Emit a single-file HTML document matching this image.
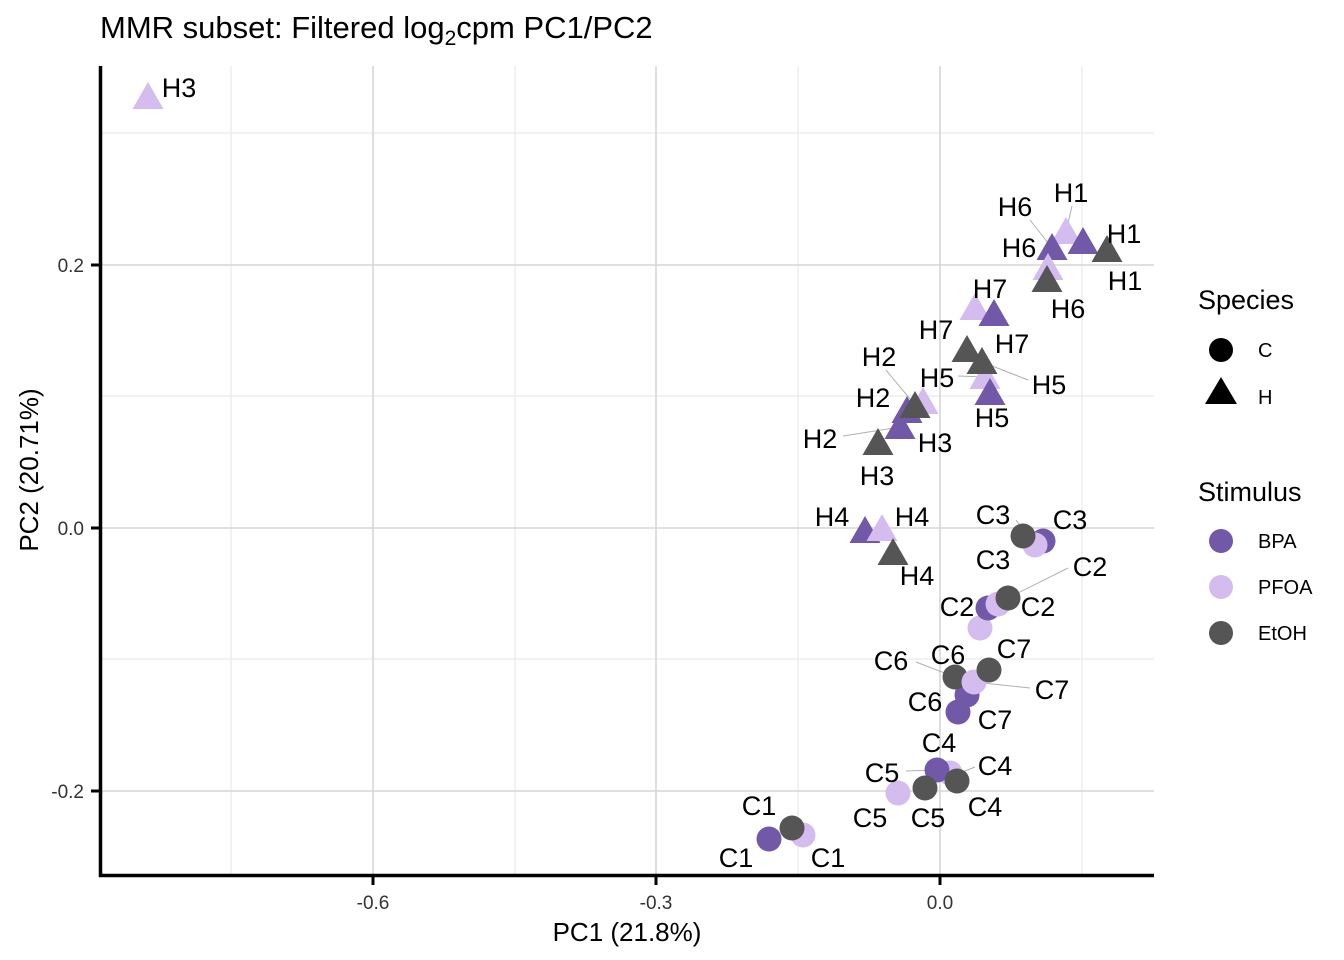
<!DOCTYPE html>
<html><head><meta charset="utf-8"><style>
html,body{margin:0;padding:0;background:#fff;}
svg{display:block;font-family:"Liberation Sans",Arial,sans-serif;}
</style></head><body>
<svg width="1344" height="960" viewBox="0 0 1344 960" xmlns="http://www.w3.org/2000/svg">
<defs>
<path id="tri" d="M0,-16 L15.5,11 L-15.5,11 Z"/>
</defs>
<rect width="1344" height="960" fill="#fff"/>
<g stroke="#ebebeb" stroke-width="1.3">
<line x1="231" y1="66" x2="231" y2="876"/><line x1="515" y1="66" x2="515" y2="876"/>
<line x1="798" y1="66" x2="798" y2="876"/><line x1="1082" y1="66" x2="1082" y2="876"/>
<line x1="100" y1="133" x2="1154" y2="133"/><line x1="100" y1="396" x2="1154" y2="396"/>
<line x1="100" y1="659" x2="1154" y2="659"/>
</g>
<g stroke="#d6d6d6" stroke-width="1.6">
<line x1="373" y1="66" x2="373" y2="876"/><line x1="656" y1="66" x2="656" y2="876"/>
<line x1="940" y1="66" x2="940" y2="876"/>
<line x1="100" y1="265" x2="1154" y2="265"/><line x1="100" y1="528" x2="1154" y2="528"/>
<line x1="100" y1="791" x2="1154" y2="791"/>
</g>
<g stroke="#b0b0b0" stroke-width="1">
<line x1="1066" y1="232" x2="1072" y2="206"/>
<line x1="1052" y1="248" x2="1030" y2="220"/>
<line x1="915" y1="405" x2="886" y2="370"/>
<line x1="900" y1="427" x2="843" y2="436"/>
<line x1="985" y1="377" x2="958" y2="376"/>
<line x1="982" y1="362" x2="1028" y2="380"/>
<line x1="1035" y1="545" x2="1016" y2="520"/>
<line x1="1008" y1="598" x2="1068" y2="568"/>
<line x1="955" y1="677" x2="916" y2="662"/>
<line x1="974" y1="682" x2="1030" y2="688"/>
<line x1="937" y1="770" x2="906" y2="771"/>
<line x1="955" y1="775" x2="975" y2="767"/>
</g>
<g>
<use href="#tri" x="148" y="98" fill="#d4bcef"/>
<use href="#tri" x="1066" y="233" fill="#d4bcef"/>
<use href="#tri" x="1083" y="243" fill="#7159a8"/>
<use href="#tri" x="1052" y="249" fill="#7159a8"/>
<use href="#tri" x="1107" y="251" fill="#555555"/>
<use href="#tri" x="1048" y="269" fill="#d4bcef"/>
<use href="#tri" x="1047" y="281" fill="#555555"/>
<use href="#tri" x="975" y="309" fill="#d4bcef"/>
<use href="#tri" x="994" y="315" fill="#7159a8"/>
<use href="#tri" x="967" y="351" fill="#555555"/>
<use href="#tri" x="985" y="378" fill="#d4bcef"/>
<use href="#tri" x="982" y="363" fill="#555555"/>
<use href="#tri" x="990" y="394" fill="#7159a8"/>
<use href="#tri" x="923" y="403" fill="#d4bcef"/>
<use href="#tri" x="907" y="412" fill="#7159a8"/>
<use href="#tri" x="900" y="428" fill="#7159a8"/>
<use href="#tri" x="915" y="407" fill="#555555"/>
<use href="#tri" x="878" y="444" fill="#555555"/>
<use href="#tri" x="865" y="532" fill="#7159a8"/>
<use href="#tri" x="882" y="530" fill="#d4bcef"/>
<use href="#tri" x="893" y="554" fill="#555555"/>

<circle cx="1043" cy="541" r="12.5" fill="#7159a8"/>
<circle cx="1035" cy="545" r="12.5" fill="#d4bcef"/>
<circle cx="1023" cy="536" r="12.5" fill="#555555"/>
<circle cx="980" cy="628" r="12.5" fill="#d4bcef"/>
<circle cx="988" cy="608" r="12.5" fill="#7159a8"/>
<circle cx="998" cy="604" r="12.5" fill="#d4bcef"/>
<circle cx="1008" cy="598" r="12.5" fill="#555555"/>
<circle cx="958" cy="712" r="12.5" fill="#7159a8"/>
<circle cx="967" cy="695" r="12.5" fill="#7159a8"/>
<circle cx="955" cy="677" r="12.5" fill="#555555"/>
<circle cx="974" cy="682" r="12.5" fill="#d4bcef"/>
<circle cx="989" cy="670" r="12.5" fill="#555555"/>
<circle cx="950" cy="773" r="12.5" fill="#d4bcef"/>
<circle cx="937" cy="770" r="12.5" fill="#7159a8"/>
<circle cx="957" cy="781" r="12.5" fill="#555555"/>
<circle cx="898" cy="793" r="12.5" fill="#d4bcef"/>
<circle cx="925" cy="788" r="12.5" fill="#555555"/>
<circle cx="803" cy="835" r="12.5" fill="#d4bcef"/>
<circle cx="769" cy="839" r="12.5" fill="#7159a8"/>
<circle cx="792" cy="828" r="12.5" fill="#555555"/>
</g>
<g font-size="27" fill="#000" text-anchor="middle">
<text x="179" y="97">H3</text>
<text x="1071" y="202">H1</text>
<text x="1015" y="216">H6</text>
<text x="1124" y="243">H1</text>
<text x="1019" y="257">H6</text>
<text x="1125" y="290">H1</text>
<text x="1068" y="318">H6</text>
<text x="990" y="298">H7</text>
<text x="936" y="339">H7</text>
<text x="1012" y="353">H7</text>
<text x="879" y="366">H2</text>
<text x="937" y="387">H5</text>
<text x="1049" y="394">H5</text>
<text x="873" y="407">H2</text>
<text x="992" y="427">H5</text>
<text x="820" y="448">H2</text>
<text x="935" y="452">H3</text>
<text x="877" y="485">H3</text>
<text x="832" y="526">H4</text>
<text x="912" y="526">H4</text>
<text x="917" y="585">H4</text>
<text x="993" y="524">C3</text>
<text x="1070" y="529">C3</text>
<text x="993" y="569">C3</text>
<text x="1090" y="576">C2</text>
<text x="957" y="616">C2</text>
<text x="1038" y="616">C2</text>
<text x="891" y="670">C6</text>
<text x="948" y="664">C6</text>
<text x="1014" y="658">C7</text>
<text x="1052" y="699">C7</text>
<text x="925" y="711">C6</text>
<text x="995" y="729">C7</text>
<text x="939" y="752">C4</text>
<text x="995" y="775">C4</text>
<text x="882" y="782">C5</text>
<text x="985" y="816">C4</text>
<text x="870" y="827">C5</text>
<text x="928" y="827">C5</text>
<text x="759" y="815">C1</text>
<text x="736" y="867">C1</text>
<text x="828" y="867">C1</text>
</g>
<g stroke="#000">
<line x1="100.5" y1="66" x2="100.5" y2="877" stroke-width="3.5"/>
<line x1="99" y1="875.5" x2="1154" y2="875.5" stroke-width="3.5"/>
<g stroke-width="3">
<line x1="91" y1="265" x2="99" y2="265"/><line x1="91" y1="528" x2="99" y2="528"/><line x1="91" y1="791" x2="99" y2="791"/>
<line x1="373" y1="877" x2="373" y2="885"/><line x1="656" y1="877" x2="656" y2="885"/><line x1="940" y1="877" x2="940" y2="885"/>
</g>
</g>
<g font-size="19" fill="#333" text-anchor="end">
<text x="84" y="272">0.2</text><text x="84" y="535">0.0</text><text x="84" y="798">-0.2</text>
</g>
<g font-size="19" fill="#333" text-anchor="middle">
<text x="373" y="909">-0.6</text><text x="656" y="909">-0.3</text><text x="940" y="909">0.0</text>
</g>
<text x="627" y="941" font-size="26" text-anchor="middle">PC1 (21.8%)</text>
<text transform="translate(38,470) rotate(-90)" font-size="26" text-anchor="middle">PC2 (20.71%)</text>
<text x="100" y="38" font-size="31">MMR subset: Filtered log<tspan font-size="21" dy="7">2</tspan><tspan dy="-7">cpm PC1/PC2</tspan></text>
<text x="1198" y="309" font-size="27">Species</text>
<circle cx="1221" cy="350" r="12" fill="#000"/>
<text x="1258" y="357" font-size="20">C</text>
<path d="M1221,377 L1237,404 L1205,404 Z" fill="#000"/>
<text x="1258" y="404" font-size="20">H</text>
<text x="1198" y="501" font-size="27">Stimulus</text>
<circle cx="1221" cy="541" r="12" fill="#7159a8"/>
<text x="1258" y="548" font-size="20">BPA</text>
<circle cx="1221" cy="587" r="12" fill="#d4bcef"/>
<text x="1258" y="594" font-size="20">PFOA</text>
<circle cx="1221" cy="633" r="12" fill="#555555"/>
<text x="1258" y="640" font-size="20">EtOH</text>
</svg>
</body></html>
